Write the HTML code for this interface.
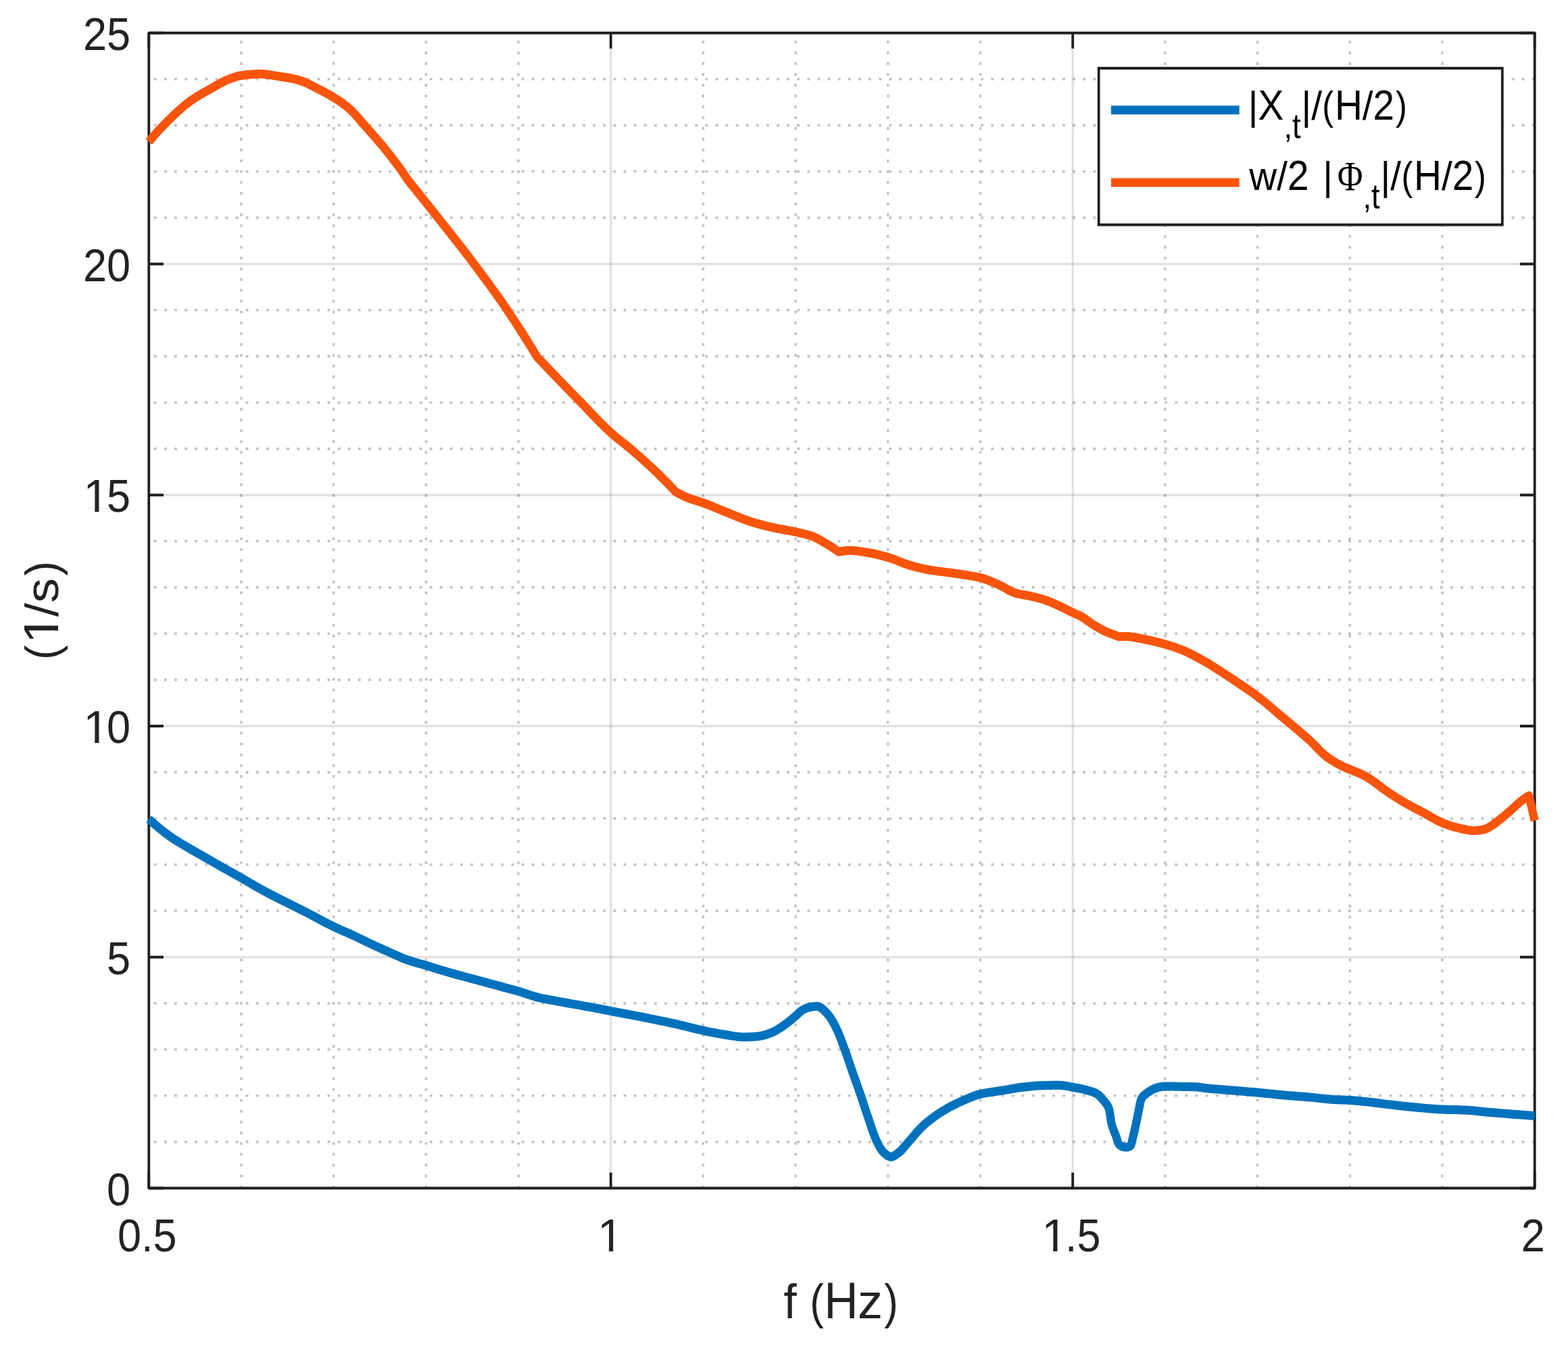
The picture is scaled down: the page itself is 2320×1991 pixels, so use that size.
<!DOCTYPE html>
<html lang="en"><head><meta charset="utf-8"><title>Velocity response amplitude vs frequency</title>
<style>html,body{margin:0;padding:0;background:#fff}body{width:2320px;height:1991px;overflow:hidden}svg{display:block}text{font-family:"Liberation Sans",Arial,Helvetica,sans-serif}.sym{font-family:"Liberation Serif","Times New Roman",serif}</style>
</head><body>
<svg xmlns="http://www.w3.org/2000/svg" width="2320" height="1991" viewBox="0 0 2320 1991">
<rect width="2320" height="1991" fill="#fff"/>
<g transform="scale(0.9455,1)">
<g fill="none" stroke="#c1c1c1" stroke-width="3.6" stroke-dasharray="4.0 11.975">
<path d="M377.52,1757.50 V48.70"/>
<path d="M522.10,1757.50 V48.70"/>
<path d="M666.67,1757.50 V48.70"/>
<path d="M811.25,1757.50 V48.70"/>
<path d="M1100.40,1757.50 V48.70"/>
<path d="M1244.98,1757.50 V48.70"/>
<path d="M1389.55,1757.50 V48.70"/>
<path d="M1534.13,1757.50 V48.70"/>
<path d="M1823.28,1757.50 V48.70"/>
<path d="M1967.86,1757.50 V48.70"/>
<path d="M2112.43,1757.50 V48.70"/>
<path d="M2257.01,1757.50 V48.70"/>
<path d="M2401.59,1689.15 H232.95"/>
<path d="M2401.59,1620.80 H232.95"/>
<path d="M2401.59,1552.44 H232.95"/>
<path d="M2401.59,1484.09 H232.95"/>
<path d="M2401.59,1347.39 H232.95"/>
<path d="M2401.59,1279.04 H232.95"/>
<path d="M2401.59,1210.68 H232.95"/>
<path d="M2401.59,1142.33 H232.95"/>
<path d="M2401.59,1005.63 H232.95"/>
<path d="M2401.59,937.28 H232.95"/>
<path d="M2401.59,868.92 H232.95"/>
<path d="M2401.59,800.57 H232.95"/>
<path d="M2401.59,663.87 H232.95"/>
<path d="M2401.59,595.52 H232.95"/>
<path d="M2401.59,527.16 H232.95"/>
<path d="M2401.59,458.81 H232.95"/>
<path d="M2401.59,322.11 H232.95"/>
<path d="M2401.59,253.76 H232.95"/>
<path d="M2401.59,185.40 H232.95"/>
<path d="M2401.59,117.05 H232.95"/>
</g>
<g fill="none" stroke="#262626" stroke-opacity="0.135" stroke-width="3.6">
<path d="M955.83,1757.50 V48.70"/>
<path d="M1678.71,1757.50 V48.70"/>
<path d="M232.95,1415.74 H2401.59"/>
<path d="M232.95,1073.98 H2401.59"/>
<path d="M232.95,732.22 H2401.59"/>
<path d="M232.95,390.46 H2401.59"/>
</g>
<g fill="none" stroke="#1f1f1f" stroke-width="4.0" stroke-linejoin="round">
<rect x="232.95" y="48.70" width="2168.64" height="1708.80"/>
<path d="M232.95,1757.50 v-23.0 M232.95,48.70 v23.0"/>
<path d="M955.83,1757.50 v-23.0 M955.83,48.70 v23.0"/>
<path d="M1678.71,1757.50 v-23.0 M1678.71,48.70 v23.0"/>
<path d="M2401.59,1757.50 v-23.0 M2401.59,48.70 v23.0"/>
<path d="M232.95,1757.50 h23.0 M2401.59,1757.50 h-23.0"/>
<path d="M232.95,1415.74 h23.0 M2401.59,1415.74 h-23.0"/>
<path d="M232.95,1073.98 h23.0 M2401.59,1073.98 h-23.0"/>
<path d="M232.95,732.22 h23.0 M2401.59,732.22 h-23.0"/>
<path d="M232.95,390.46 h23.0 M2401.59,390.46 h-23.0"/>
<path d="M232.95,48.70 h23.0 M2401.59,48.70 h-23.0"/>
</g>
<g fill="none" stroke-width="13.0" stroke-linejoin="round" stroke-linecap="butt">
<path stroke="#0072bd" d="M232.95,1211.50 L238.53,1216.37 L244.24,1221.09 L250.05,1225.66 L255.97,1230.09 L261.98,1234.37 L268.08,1238.50 L273.02,1241.65 L278.07,1244.67 L283.20,1247.60 L288.37,1250.48 L293.56,1253.34 L298.73,1256.21 L303.78,1259.02 L308.86,1261.81 L313.94,1264.57 L319.04,1267.32 L324.14,1270.07 L329.23,1272.82 L337.27,1277.13 L345.32,1281.42 L353.38,1285.69 L361.44,1289.97 L369.49,1294.26 L377.52,1298.58 L382.25,1301.17 L386.96,1303.78 L391.66,1306.40 L396.37,1309.00 L401.10,1311.58 L405.86,1314.10 L410.42,1316.45 L415.01,1318.77 L419.61,1321.06 L424.22,1323.34 L428.85,1325.59 L433.47,1327.84 L440.34,1331.14 L447.23,1334.40 L454.14,1337.63 L461.05,1340.86 L467.94,1344.11 L474.82,1347.39 L482.71,1351.25 L490.56,1355.18 L498.40,1359.14 L506.25,1363.06 L514.14,1366.91 L522.10,1370.63 L527.31,1372.95 L532.56,1375.20 L537.83,1377.41 L543.10,1379.61 L548.37,1381.83 L553.62,1384.09 L558.74,1386.37 L563.84,1388.68 L568.94,1391.00 L574.03,1393.33 L579.14,1395.63 L584.27,1397.90 L589.35,1400.11 L594.45,1402.30 L599.55,1404.48 L604.66,1406.63 L609.79,1408.77 L614.92,1410.89 L618.72,1412.47 L622.53,1414.08 L626.34,1415.67 L630.17,1417.21 L634.02,1418.68 L637.90,1420.05 L642.63,1421.54 L647.41,1422.92 L652.22,1424.23 L657.04,1425.51 L661.87,1426.79 L666.67,1428.11 L673.35,1430.03 L680.01,1431.97 L686.68,1433.92 L693.35,1435.86 L700.03,1437.75 L706.72,1439.59 L714.36,1441.61 L722.02,1443.56 L729.69,1445.47 L737.36,1447.37 L745.03,1449.28 L752.70,1451.21 L757.81,1452.53 L762.92,1453.85 L768.02,1455.17 L773.13,1456.50 L778.24,1457.82 L783.35,1459.14 L788.00,1460.33 L792.66,1461.51 L797.32,1462.68 L801.97,1463.86 L806.62,1465.07 L811.25,1466.32 L816.39,1467.81 L821.51,1469.41 L826.62,1471.04 L831.73,1472.63 L836.87,1474.11 L842.04,1475.41 L848.36,1476.77 L854.73,1477.99 L861.13,1479.13 L867.54,1480.21 L873.95,1481.29 L880.36,1482.38 L886.74,1483.49 L893.12,1484.57 L899.51,1485.64 L905.90,1486.71 L912.29,1487.79 L918.67,1488.88 L922.45,1489.53 L926.24,1490.18 L930.02,1490.83 L933.81,1491.49 L937.59,1492.16 L941.37,1492.84 L943.78,1493.29 L946.19,1493.74 L948.60,1494.20 L951.01,1494.66 L953.42,1495.12 L955.83,1495.58 L963.60,1497.00 L971.39,1498.39 L979.18,1499.77 L986.96,1501.16 L994.75,1502.55 L1002.52,1503.98 L1007.68,1504.95 L1012.84,1505.93 L1018.00,1506.92 L1023.16,1507.92 L1028.31,1508.92 L1033.46,1509.93 L1037.49,1510.71 L1041.52,1511.49 L1045.55,1512.28 L1049.57,1513.07 L1053.59,1513.88 L1057.61,1514.71 L1059.37,1515.09 L1061.13,1515.47 L1062.89,1515.86 L1064.65,1516.25 L1066.40,1516.64 L1068.16,1517.04 L1073.54,1518.27 L1078.90,1519.54 L1084.27,1520.81 L1089.63,1522.07 L1095.01,1523.28 L1100.40,1524.42 L1105.08,1525.36 L1109.77,1526.28 L1114.46,1527.17 L1119.17,1528.02 L1123.88,1528.81 L1128.59,1529.55 L1134.52,1530.48 L1140.46,1531.46 L1146.41,1532.39 L1152.37,1533.17 L1158.33,1533.72 L1164.30,1533.92 L1167.87,1533.89 L1171.45,1533.79 L1175.04,1533.64 L1178.62,1533.45 L1182.17,1533.22 L1185.70,1532.96 L1189.33,1532.54 L1192.97,1531.85 L1196.58,1530.95 L1200.16,1529.90 L1203.67,1528.75 L1207.10,1527.56 L1209.57,1526.59 L1212.01,1525.46 L1214.41,1524.20 L1216.77,1522.87 L1219.11,1521.49 L1221.41,1520.11 L1223.88,1518.60 L1226.30,1517.02 L1228.70,1515.38 L1231.06,1513.70 L1233.41,1511.99 L1235.73,1510.27 L1237.30,1509.07 L1238.84,1507.83 L1240.38,1506.58 L1241.90,1505.32 L1243.43,1504.06 L1244.98,1502.82 L1246.96,1501.17 L1248.92,1499.44 L1250.88,1497.72 L1252.88,1496.08 L1254.95,1494.61 L1257.12,1493.39 L1258.92,1492.56 L1260.79,1491.76 L1262.73,1491.02 L1264.70,1490.38 L1266.70,1489.86 L1268.69,1489.49 L1270.32,1489.27 L1271.99,1489.06 L1273.68,1488.88 L1275.35,1488.73 L1276.98,1488.64 L1278.52,1488.60 L1281.42,1489.10 L1284.27,1490.43 L1287.02,1492.34 L1289.63,1494.61 L1292.06,1496.97 L1294.28,1499.20 L1297.09,1502.29 L1299.71,1505.70 L1302.15,1509.35 L1304.42,1513.14 L1306.57,1516.99 L1308.59,1520.80 L1311.12,1525.89 L1313.46,1531.10 L1315.66,1536.40 L1317.76,1541.74 L1319.83,1547.10 L1321.89,1552.44 L1324.18,1558.40 L1326.39,1564.39 L1328.55,1570.39 L1330.70,1576.40 L1332.86,1582.40 L1335.05,1588.40 L1337.07,1593.80 L1339.10,1599.19 L1341.15,1604.59 L1343.19,1609.98 L1345.21,1615.38 L1347.19,1620.80 L1349.25,1626.55 L1351.25,1632.32 L1353.24,1638.10 L1355.23,1643.87 L1357.26,1649.64 L1359.34,1655.38 L1361.38,1661.08 L1363.39,1666.82 L1365.43,1672.55 L1367.57,1678.21 L1369.90,1683.76 L1372.49,1689.15 L1374.04,1692.08 L1375.70,1695.07 L1377.48,1698.02 L1379.41,1700.81 L1381.51,1703.36 L1383.77,1705.55 L1385.27,1706.78 L1386.95,1708.06 L1388.76,1709.26 L1390.63,1710.27 L1392.51,1710.97 L1394.33,1711.23 L1396.20,1710.96 L1398.12,1710.25 L1400.04,1709.23 L1401.93,1708.02 L1403.75,1706.75 L1405.46,1705.55 L1408.45,1703.26 L1411.26,1700.65 L1413.94,1697.84 L1416.55,1694.92 L1419.15,1691.99 L1421.79,1689.15 L1425.36,1685.34 L1428.85,1681.46 L1432.32,1677.55 L1435.83,1673.69 L1439.43,1669.95 L1443.19,1666.39 L1446.54,1663.48 L1450.01,1660.65 L1453.56,1657.90 L1457.19,1655.23 L1460.87,1652.63 L1464.59,1650.12 L1468.03,1647.88 L1471.54,1645.70 L1475.09,1643.58 L1478.69,1641.52 L1482.33,1639.53 L1485.99,1637.61 L1489.50,1635.85 L1493.05,1634.14 L1496.63,1632.48 L1500.24,1630.88 L1503.88,1629.33 L1507.53,1627.84 L1511.89,1626.07 L1516.27,1624.30 L1520.68,1622.58 L1525.13,1620.98 L1529.61,1619.57 L1534.13,1618.40 L1540.18,1617.17 L1546.32,1616.13 L1552.51,1615.21 L1558.73,1614.35 L1564.95,1613.50 L1571.14,1612.59 L1575.91,1611.83 L1580.67,1611.03 L1585.44,1610.24 L1590.21,1609.49 L1594.98,1608.80 L1599.77,1608.22 L1604.52,1607.71 L1609.29,1607.21 L1614.06,1606.75 L1618.83,1606.35 L1623.61,1606.04 L1628.39,1605.83 L1633.16,1605.68 L1637.94,1605.55 L1642.72,1605.44 L1647.50,1605.36 L1652.26,1605.30 L1657.02,1605.28 L1660.65,1605.42 L1664.27,1605.78 L1667.89,1606.31 L1671.50,1606.94 L1675.11,1607.60 L1678.71,1608.22 L1682.37,1608.83 L1686.03,1609.48 L1689.69,1610.17 L1693.33,1610.92 L1696.95,1611.72 L1700.54,1612.59 L1703.22,1613.27 L1705.94,1613.99 L1708.65,1614.77 L1711.28,1615.64 L1713.80,1616.61 L1716.15,1617.72 L1717.72,1618.68 L1719.22,1619.84 L1720.67,1621.14 L1722.06,1622.54 L1723.40,1623.97 L1724.68,1625.38 L1726.76,1627.62 L1728.88,1629.95 L1730.92,1632.36 L1732.76,1634.84 L1734.29,1637.39 L1735.38,1640.00 L1736.26,1643.38 L1736.92,1646.94 L1737.45,1650.61 L1737.96,1654.33 L1738.53,1658.01 L1739.28,1661.60 L1740.26,1665.04 L1741.45,1668.44 L1742.78,1671.81 L1744.19,1675.18 L1745.60,1678.53 L1746.95,1681.90 L1747.59,1683.80 L1748.19,1685.82 L1748.79,1687.84 L1749.45,1689.74 L1750.21,1691.40 L1751.14,1692.70 L1752.29,1693.71 L1753.81,1694.70 L1755.59,1695.60 L1757.50,1696.33 L1759.43,1696.83 L1761.26,1697.01 L1762.49,1696.95 L1763.85,1696.78 L1765.21,1696.52 L1766.48,1696.19 L1767.56,1695.83 L1768.34,1695.44 L1769.46,1694.18 L1770.36,1692.22 L1771.10,1689.77 L1771.74,1687.08 L1772.35,1684.38 L1772.97,1681.90 L1773.89,1678.55 L1774.75,1675.18 L1775.57,1671.79 L1776.35,1668.40 L1777.12,1665.00 L1777.89,1661.60 L1778.63,1658.23 L1779.34,1654.86 L1780.05,1651.48 L1780.75,1648.11 L1781.47,1644.73 L1782.22,1641.37 L1782.81,1638.59 L1783.37,1635.73 L1783.94,1632.87 L1784.58,1630.09 L1785.34,1627.48 L1786.27,1625.10 L1787.46,1623.17 L1789.12,1621.32 L1791.10,1619.56 L1793.27,1617.91 L1795.52,1616.38 L1797.69,1614.99 L1799.67,1613.76 L1801.74,1612.56 L1803.88,1611.43 L1806.08,1610.41 L1808.31,1609.56 L1810.56,1608.90 L1812.61,1608.42 L1814.70,1607.96 L1816.83,1607.55 L1818.98,1607.22 L1821.14,1607.00 L1823.28,1606.92 L1827.79,1606.94 L1832.31,1607.01 L1836.85,1607.10 L1841.39,1607.20 L1845.93,1607.31 L1850.46,1607.40 L1854.06,1607.46 L1857.65,1607.51 L1861.25,1607.56 L1864.84,1607.62 L1868.43,1607.70 L1872.00,1607.81 L1874.40,1607.97 L1876.78,1608.24 L1879.16,1608.58 L1881.55,1608.95 L1883.93,1609.30 L1886.32,1609.59 L1892.79,1610.19 L1899.26,1610.73 L1905.75,1611.22 L1912.24,1611.69 L1918.72,1612.17 L1925.21,1612.66 L1932.32,1613.22 L1939.43,1613.78 L1946.54,1614.34 L1953.65,1614.90 L1960.75,1615.48 L1967.86,1616.08 L1975.07,1616.73 L1982.27,1617.41 L1989.47,1618.11 L1996.67,1618.80 L2003.88,1619.48 L2011.09,1620.11 L2018.24,1620.69 L2025.40,1621.22 L2032.56,1621.74 L2039.72,1622.26 L2046.87,1622.80 L2054.03,1623.39 L2058.80,1623.85 L2063.57,1624.35 L2068.33,1624.88 L2073.10,1625.39 L2077.87,1625.84 L2082.65,1626.20 L2087.61,1626.47 L2092.57,1626.69 L2097.54,1626.89 L2102.51,1627.08 L2107.47,1627.30 L2112.43,1627.56 L2116.99,1627.86 L2121.55,1628.21 L2126.11,1628.60 L2130.66,1629.01 L2135.21,1629.45 L2139.76,1629.89 L2146.25,1630.56 L2152.73,1631.29 L2159.21,1632.06 L2165.69,1632.84 L2172.17,1633.61 L2178.65,1634.33 L2182.91,1634.79 L2187.18,1635.24 L2191.44,1635.68 L2195.71,1636.11 L2199.97,1636.53 L2204.24,1636.93 L2213.03,1637.74 L2221.81,1638.57 L2230.61,1639.37 L2239.40,1640.08 L2248.20,1640.67 L2257.01,1641.10 L2262.50,1641.27 L2268.00,1641.40 L2273.49,1641.50 L2278.99,1641.61 L2284.49,1641.74 L2289.97,1641.92 L2297.14,1642.29 L2304.30,1642.85 L2311.45,1643.51 L2318.60,1644.22 L2325.76,1644.92 L2332.91,1645.54 L2340.07,1646.09 L2347.22,1646.62 L2354.38,1647.14 L2361.54,1647.66 L2368.69,1648.17 L2375.85,1648.68 L2380.14,1648.99 L2384.43,1649.30 L2388.72,1649.61 L2393.01,1649.92 L2397.30,1650.22 L2401.59,1650.53"/>
<path stroke="#f9540b" d="M232.95,209.67 L238.48,203.41 L244.15,197.27 L249.95,191.25 L255.86,185.35 L261.88,179.58 L268.01,173.92 L272.90,169.52 L277.87,165.16 L282.93,160.87 L288.09,156.70 L293.35,152.70 L298.73,148.90 L303.60,145.73 L308.61,142.70 L313.72,139.77 L318.89,136.93 L324.10,134.15 L329.31,131.41 L334.30,128.73 L339.31,126.01 L344.36,123.35 L349.45,120.82 L354.62,118.51 L359.88,116.51 L362.74,115.53 L365.65,114.58 L368.59,113.68 L371.55,112.88 L374.53,112.21 L377.52,111.72 L382.18,111.12 L386.89,110.57 L391.63,110.10 L396.38,109.73 L401.13,109.48 L405.86,109.40 L410.98,109.56 L416.10,110.00 L421.21,110.64 L426.32,111.39 L431.42,112.19 L436.51,112.95 L441.65,113.68 L446.81,114.46 L451.96,115.29 L457.07,116.21 L462.12,117.25 L467.09,118.42 L472.34,119.99 L477.51,121.94 L482.62,124.16 L487.68,126.55 L492.70,129.00 L497.71,131.41 L501.85,133.37 L505.97,135.39 L510.07,137.46 L514.13,139.59 L518.15,141.78 L522.10,144.05 L526.23,146.51 L530.34,149.05 L534.40,151.66 L538.38,154.38 L542.24,157.19 L545.95,160.11 L550.33,163.96 L554.52,168.06 L558.59,172.33 L562.57,176.70 L566.53,181.08 L570.53,185.40 L576.10,191.30 L581.66,197.22 L587.18,203.16 L592.65,209.15 L598.05,215.18 L603.35,221.29 L607.83,226.59 L612.26,231.93 L616.64,237.32 L620.95,242.76 L625.20,248.24 L629.37,253.76 L630.88,255.80 L632.37,257.86 L633.85,259.93 L635.30,262.01 L636.75,264.10 L638.19,266.20 L646.12,275.48 L654.02,284.78 L661.91,294.09 L669.79,303.41 L677.64,312.75 L685.47,322.11 L694.95,333.44 L704.44,344.77 L713.90,356.12 L723.31,367.50 L732.63,378.95 L741.85,390.46 L750.73,401.71 L759.56,413.00 L768.32,424.35 L776.98,435.76 L785.52,447.24 L793.90,458.81 L801.91,470.13 L809.81,481.53 L817.61,493.00 L825.29,504.54 L832.86,516.16 L840.31,527.85 L851.76,539.19 L863.24,550.50 L874.75,561.79 L886.28,573.05 L897.84,584.29 L909.42,595.52 L917.07,603.01 L924.67,610.57 L932.29,618.11 L939.98,625.57 L947.80,632.87 L955.83,639.94 L960.84,644.06 L965.98,648.06 L971.20,651.98 L976.44,655.89 L981.65,659.83 L986.77,663.87 L993.92,669.72 L1001.02,675.62 L1008.08,681.60 L1015.07,687.63 L1021.99,693.73 L1028.84,699.89 L1033.74,704.40 L1038.59,708.95 L1043.40,713.55 L1048.18,718.18 L1052.91,722.86 L1057.61,727.57 L1060.97,729.34 L1064.37,731.03 L1067.80,732.65 L1071.27,734.19 L1074.76,735.64 L1078.28,737.00 L1081.90,738.26 L1085.58,739.41 L1089.30,740.49 L1093.02,741.56 L1096.73,742.66 L1100.40,743.84 L1105.72,745.71 L1111.01,747.67 L1116.27,749.70 L1121.53,751.75 L1126.79,753.80 L1132.06,755.80 L1139.67,758.71 L1147.26,761.68 L1154.85,764.65 L1162.47,767.51 L1170.15,770.20 L1177.89,772.62 L1182.94,774.02 L1188.02,775.35 L1193.13,776.61 L1198.26,777.81 L1203.40,778.96 L1208.54,780.07 L1214.59,781.29 L1220.67,782.41 L1226.76,783.49 L1232.85,784.57 L1238.92,785.69 L1244.98,786.90 L1249.11,787.76 L1253.27,788.62 L1257.42,789.51 L1261.53,790.46 L1265.59,791.52 L1269.56,792.71 L1273.50,794.16 L1277.37,795.87 L1281.18,797.77 L1284.95,799.79 L1288.69,801.87 L1292.40,803.92 L1295.87,805.85 L1299.31,807.84 L1302.73,809.88 L1306.11,811.97 L1309.46,814.11 L1312.78,816.29 L1315.72,815.71 L1318.66,815.20 L1321.60,814.80 L1324.54,814.50 L1327.48,814.31 L1330.42,814.24 L1334.26,814.35 L1338.10,814.65 L1341.94,815.08 L1345.77,815.60 L1349.60,816.15 L1353.41,816.70 L1359.49,817.64 L1365.56,818.74 L1371.61,819.99 L1377.64,821.36 L1383.62,822.82 L1389.55,824.36 L1395.08,826.02 L1400.54,827.95 L1405.97,830.02 L1411.39,832.11 L1416.85,834.07 L1422.37,835.77 L1427.39,837.12 L1432.44,838.42 L1437.53,839.64 L1442.63,840.77 L1447.75,841.81 L1452.88,842.75 L1460.49,843.94 L1468.14,844.98 L1475.82,845.92 L1483.51,846.83 L1491.19,847.78 L1498.85,848.83 L1504.77,849.67 L1510.70,850.50 L1516.62,851.37 L1522.52,852.30 L1528.37,853.36 L1534.13,854.57 L1539.15,855.89 L1544.12,857.50 L1549.05,859.32 L1553.94,861.28 L1558.79,863.30 L1563.62,865.30 L1568.06,867.32 L1572.43,869.58 L1576.76,871.91 L1581.12,874.14 L1585.54,876.09 L1590.08,877.60 L1593.80,878.49 L1597.61,879.23 L1601.47,879.88 L1605.36,880.50 L1609.23,881.16 L1613.07,881.91 L1616.93,882.76 L1620.80,883.64 L1624.65,884.57 L1628.49,885.55 L1632.29,886.60 L1636.06,887.72 L1639.96,889.03 L1643.82,890.47 L1647.66,892.02 L1651.47,893.65 L1655.26,895.30 L1659.04,896.95 L1662.35,898.42 L1665.63,899.94 L1668.89,901.49 L1672.15,903.05 L1675.42,904.60 L1678.71,906.11 L1680.95,907.09 L1683.22,908.03 L1685.49,908.97 L1687.75,909.92 L1689.98,910.92 L1692.15,911.99 L1695.33,913.78 L1698.42,915.74 L1701.46,917.81 L1704.49,919.90 L1707.54,921.95 L1710.66,923.88 L1713.84,925.71 L1717.05,927.50 L1720.29,929.26 L1723.56,930.97 L1726.85,932.64 L1730.18,934.27 L1750.42,941.72 L1752.47,941.63 L1754.52,941.57 L1756.57,941.54 L1758.62,941.52 L1760.66,941.51 L1762.70,941.51 L1765.27,941.60 L1767.83,941.81 L1770.39,942.13 L1772.94,942.51 L1775.49,942.91 L1778.03,943.29 L1781.08,943.76 L1784.12,944.29 L1787.16,944.86 L1790.19,945.46 L1793.22,946.08 L1796.25,946.71 L1800.78,947.65 L1805.30,948.62 L1809.83,949.62 L1814.33,950.67 L1818.82,951.77 L1823.28,952.93 L1827.80,954.18 L1832.30,955.50 L1836.79,956.90 L1841.25,958.37 L1845.66,959.92 L1850.03,961.54 L1855.26,963.64 L1860.43,965.91 L1865.56,968.31 L1870.64,970.81 L1875.68,973.37 L1880.68,975.96 L1885.88,978.76 L1891.03,981.66 L1896.14,984.64 L1901.22,987.68 L1906.28,990.74 L1911.33,993.80 L1916.46,996.93 L1921.56,1000.08 L1926.65,1003.27 L1931.72,1006.48 L1936.78,1009.70 L1941.83,1012.94 L1946.21,1015.74 L1950.60,1018.53 L1954.97,1021.34 L1959.32,1024.18 L1963.62,1027.07 L1967.86,1030.03 L1973.83,1034.43 L1979.70,1038.96 L1985.51,1043.59 L1991.28,1048.27 L1997.04,1052.95 L2002.85,1057.58 L2005.96,1060.02 L2009.07,1062.46 L2012.19,1064.91 L2015.30,1067.35 L2018.40,1069.81 L2021.50,1072.27 L2026.09,1075.93 L2030.68,1079.59 L2035.27,1083.27 L2039.83,1086.96 L2044.35,1090.70 L2048.82,1094.49 L2053.42,1098.65 L2057.90,1102.99 L2062.33,1107.38 L2066.81,1111.68 L2071.44,1115.76 L2076.29,1119.50 L2080.13,1122.10 L2084.11,1124.60 L2088.20,1126.98 L2092.38,1129.26 L2096.61,1131.41 L2100.87,1133.45 L2102.75,1134.29 L2104.67,1135.08 L2106.60,1135.85 L2108.55,1136.60 L2110.49,1137.34 L2112.43,1138.09 L2114.58,1138.93 L2116.73,1139.75 L2118.88,1140.57 L2121.03,1141.39 L2123.17,1142.22 L2125.30,1143.08 L2127.37,1143.95 L2129.43,1144.82 L2131.48,1145.72 L2133.52,1146.62 L2135.56,1147.55 L2137.59,1148.48 L2140.72,1150.36 L2143.82,1152.29 L2146.89,1154.24 L2149.94,1156.24 L2152.96,1158.26 L2155.95,1160.31 L2157.63,1161.50 L2159.29,1162.73 L2160.93,1163.98 L2162.58,1165.22 L2164.24,1166.44 L2165.93,1167.62 L2170.90,1170.94 L2175.93,1174.18 L2181.02,1177.36 L2186.17,1180.45 L2191.35,1183.48 L2196.58,1186.42 L2201.60,1189.12 L2206.68,1191.73 L2211.81,1194.27 L2216.96,1196.79 L2222.11,1199.31 L2227.23,1201.87 L2232.17,1204.48 L2237.07,1207.19 L2241.97,1209.90 L2246.90,1212.53 L2251.90,1214.96 L2257.01,1217.11 L2260.85,1218.53 L2264.75,1219.89 L2268.70,1221.17 L2272.69,1222.35 L2276.70,1223.42 L2280.72,1224.35 L2285.00,1225.31 L2289.32,1226.29 L2293.66,1227.20 L2298.02,1227.95 L2302.39,1228.47 L2306.74,1228.66 L2309.58,1228.58 L2312.45,1228.36 L2315.33,1228.03 L2318.17,1227.60 L2320.96,1227.09 L2323.66,1226.54 L2325.52,1226.00 L2327.35,1225.23 L2329.14,1224.29 L2330.91,1223.25 L2332.65,1222.18 L2334.36,1221.14 L2337.01,1219.50 L2339.61,1217.76 L2342.17,1215.93 L2344.69,1214.06 L2347.19,1212.16 L2349.68,1210.27 L2352.29,1208.28 L2354.86,1206.26 L2357.42,1204.20 L2359.95,1202.13 L2362.48,1200.05 L2365.01,1197.97 L2367.56,1195.80 L2370.08,1193.59 L2372.59,1191.36 L2375.12,1189.16 L2377.69,1187.02 L2380.33,1184.98 L2382.30,1183.57 L2384.31,1182.18 L2386.34,1180.83 L2388.41,1179.52 L2390.50,1178.24 L2392.62,1176.99 L2401.59,1213.90"/>
</g>
<defs><clipPath id="one" clipPathUnits="userSpaceOnUse"><path d="M-20,-160 H80 V-8.7 H34.1 V5 H25 V-8.7 H-20 Z"/></clipPath></defs>
<g fill="#222222" font-size="100" style="font-kerning:none">
<text transform="translate(204.12,1782.70) translate(-37.08,0) scale(0.6667,0.6934)">0</text>
<text transform="translate(204.12,1440.94) translate(-37.08,0) scale(0.6667,0.6934)">5</text>
<text transform="translate(204.12,1099.18) translate(-73.82,0) scale(0.7214,0.6934)" clip-path="url(#one)">1</text><text transform="translate(204.12,1099.18) translate(-37.08,0) scale(0.6667,0.6934)">0</text>
<text transform="translate(204.12,757.42) translate(-73.82,0) scale(0.7214,0.6934)" clip-path="url(#one)">1</text><text transform="translate(204.12,757.42) translate(-37.08,0) scale(0.6667,0.6934)">5</text>
<text transform="translate(204.12,415.66) translate(-74.16,0) scale(0.6667,0.6934)">20</text>
<text transform="translate(204.12,73.90) translate(-74.16,0) scale(0.6667,0.6934)">25</text>
<text transform="translate(230.30,1851.00) translate(-46.34,0) scale(0.6667,0.6934)">0</text><text transform="translate(230.30,1851.00) translate(-9.26,0) scale(0.6667,0.6667)">.</text><text transform="translate(230.30,1851.00) translate(9.26,0) scale(0.6667,0.6934)">5</text>
<text transform="translate(953.18,1851.00) translate(-18.21,0) scale(0.7214,0.6934)" clip-path="url(#one)">1</text>
<text transform="translate(1676.06,1851.00) translate(-46.01,0) scale(0.7214,0.6934)" clip-path="url(#one)">1</text><text transform="translate(1676.06,1851.00) translate(-9.26,0) scale(0.6667,0.6667)">.</text><text transform="translate(1676.06,1851.00) translate(9.26,0) scale(0.6667,0.6934)">5</text>
<text transform="translate(2398.94,1851.00) translate(-18.54,0) scale(0.6667,0.6934)">2</text>
<text transform="translate(1317.29,1949.70) translate(-90.87,0) scale(0.7333,0.7223)">f</text><text transform="translate(1317.29,1949.70) translate(-49.94,0) scale(0.6526,0.7223)">(</text><text transform="translate(1317.29,1949.70) translate(-27.61,0) scale(0.7333,0.7626)">H</text><text transform="translate(1317.29,1949.70) translate(24.92,0) scale(0.7846,0.7223)">z</text><text transform="translate(1317.29,1949.70) translate(66.41,0) scale(0.6526,0.7223)">)</text>
<text transform="translate(90.64,903.00) rotate(-90) translate(-72.93,0) scale(0.6526,0.7223)">(</text><text transform="translate(90.64,903.00) rotate(-90) translate(-49.54,0) scale(0.7934,0.7626)" clip-path="url(#one)">1</text><text transform="translate(90.64,903.00) rotate(-90) translate(-9.13,0) scale(0.7333,0.7333)">/</text><text transform="translate(90.64,903.00) rotate(-90) translate(11.25,0) scale(0.7333,0.7223)">s</text><text transform="translate(90.64,903.00) rotate(-90) translate(51.20,0) scale(0.6526,0.7223)">)</text>
</g>
<rect x="1719.41" y="100.9" width="631.52" height="231.60" fill="#fff" stroke="#1f1f1f" stroke-width="4.0"/>
<path d="M1738.76,162.8 H1939.40" stroke="#0072bd" stroke-width="13.0" fill="none"/>
<path d="M1738.76,270.1 H1939.40" stroke="#f9540b" stroke-width="13.0" fill="none"/>
<g fill="#000" font-size="100" style="font-kerning:none">
<text transform="translate(1953.15,177.40) translate(0.00,0) scale(0.6000,0.6000)">|</text><text transform="translate(1953.15,177.40) translate(15.59,0) scale(0.6000,0.6240)">X</text>
<text transform="translate(2008.99,203.90) translate(0.00,0) scale(0.4800,0.4800)">,</text><text transform="translate(2008.99,203.90) translate(13.34,0) scale(0.4800,0.5088)">t</text>
<text transform="translate(2036.49,177.40) translate(0.00,0) scale(0.6000,0.6000)">|/</text><text transform="translate(2036.49,177.40) translate(32.58,0) scale(0.5340,0.5910)">(</text><text transform="translate(2036.49,177.40) translate(52.24,0) scale(0.6000,0.6240)">H</text><text transform="translate(2036.49,177.40) translate(95.57,0) scale(0.6000,0.6000)">/</text><text transform="translate(2036.49,177.40) translate(112.24,0) scale(0.6000,0.6240)">2</text><text transform="translate(2036.49,177.40) translate(147.48,0) scale(0.5340,0.5910)">)</text>
<text transform="translate(1954.84,281.00) translate(0.00,0) scale(0.6000,0.5910)">w</text><text transform="translate(1954.84,281.00) translate(43.33,0) scale(0.6000,0.6000)">/</text><text transform="translate(1954.84,281.00) translate(60.00,0) scale(0.6000,0.6240)">2</text>
<text transform="translate(2070.02,281.00) translate(0.00,0) scale(0.6000,0.6000)">|</text>
<text class="sym" transform="translate(2092.86,281.00) scale(0.5460,0.6180)">&#934;</text>
<text transform="translate(2132.73,307.50) translate(0.00,0) scale(0.4800,0.4800)">,</text><text transform="translate(2132.73,307.50) translate(13.34,0) scale(0.4800,0.5088)">t</text>
<text transform="translate(2160.34,281.00) translate(0.00,0) scale(0.6000,0.6000)">|/</text><text transform="translate(2160.34,281.00) translate(32.58,0) scale(0.5340,0.5910)">(</text><text transform="translate(2160.34,281.00) translate(52.24,0) scale(0.6000,0.6240)">H</text><text transform="translate(2160.34,281.00) translate(95.57,0) scale(0.6000,0.6000)">/</text><text transform="translate(2160.34,281.00) translate(112.24,0) scale(0.6000,0.6240)">2</text><text transform="translate(2160.34,281.00) translate(147.48,0) scale(0.5340,0.5910)">)</text>
</g>
</g></svg>
</body></html>
